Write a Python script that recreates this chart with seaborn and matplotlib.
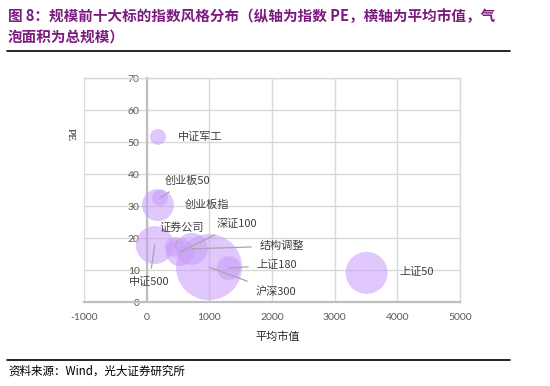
import matplotlib
matplotlib.use("Agg")
import matplotlib.pyplot as plt
import seaborn as sns
import pandas as pd
from matplotlib.lines import Line2D

# ---- data ----
names = ['中证军工', '创业板50', '创业板指', '中证500', '证券公司',
         '深证100', '结构调整', '沪深300', '上证180', '上证50']
avg_cap = [180, 210, 180, 130, 450, 530, 720, 995, 1310, 3510]
pe = [51.6, 32.5, 30.3, 17.8, 17.2, 15.6, 16.6, 10.9, 10.6, 9.1]
total_scale = [64, 64, 256, 361, 100, 196, 256, 1089, 144, 441]

x_ticks = [-1000, 0, 1000, 2000, 3000, 4000, 5000]
y_ticks = [0, 10, 20, 30, 40, 50, 60, 70]

title_text = "图 8：规模前十大标的指数风格分布（纵轴为指数 PE，横轴为平均市值，气\n泡面积为总规模）"
source_text = "资料来源：Wind，光大证券研究所"

# label layout: (text x, text y, ha, va, draw leader)
label_pos = {
    '中证军工': (500, 51.6, 'left', 'center', False),
    '创业板50': (290, 38.0, 'left', 'center', True),
    '创业板指': (610, 30.3, 'left', 'center', False),
    '中证500': (40, 6.2, 'center', 'center', True),
    '证券公司': (560, 23.4, 'center', 'center', True),
    '深证100': (1120, 24.4, 'left', 'center', True),
    '结构调整': (1810, 17.5, 'left', 'center', True),
    '沪深300': (1740, 3.2, 'left', 'center', True),
    '上证180': (1760, 11.6, 'left', 'center', True),
    '上证50': (4040, 9.4, 'left', 'center', False),
}

df = pd.DataFrame({'name': names, 'cap': avg_cap, 'pe': pe, 'scale': total_scale})

sns.set_theme(style="white")
plt.rcParams['font.family'] = ['Noto Sans CJK SC', 'DejaVu Sans']
plt.rcParams['axes.unicode_minus'] = False

fig = plt.figure(figsize=(5.5, 3.86), dpi=100)
ax = fig.add_axes([84/550, 1-302/386, (460-84)/550, (302-78)/386])

# s in points^2 ; radius 33px -> diameter 66px -> 47.5pt
smax = (66 * 0.72) ** 2
sns.scatterplot(data=df, x='cap', y='pe', size='scale', sizes=(0, smax),
                size_norm=(0, max(total_scale)), color='#C79BFA', alpha=0.55,
                edgecolor='none', legend=False, ax=ax, zorder=3)

ax.set_xlim(-1000, 5000)
ax.set_ylim(0, 70)
ax.set_xticks(x_ticks)
ax.set_yticks(y_ticks)
ax.grid(True, color='#D9D9D9', linewidth=1.0, zorder=0)
ax.set_axisbelow(True)

ax.spines['left'].set_position(('data', 0))
for sp in ['left', 'bottom']:
    ax.spines[sp].set_color('#BFBFBF')
    ax.spines[sp].set_linewidth(1.6)
for sp in ['top', 'right']:
    ax.spines[sp].set_color('#D9D9D9')
    ax.spines[sp].set_linewidth(1.0)

ax.tick_params(axis='x', length=0, labelsize=7.5, labelcolor='#595959', pad=8)
ax.tick_params(axis='y', length=4, width=1, color='#BFBFBF', direction='out',
               labelsize=7.5, labelcolor='#595959', pad=1)
for lab in ax.get_xticklabels() + ax.get_yticklabels():
    lab.set_family(['Lato', 'DejaVu Sans'])
ax.set_xlabel('')
ax.set_ylabel('')

for n, x, y in zip(names, avg_cap, pe):
    tx, ty, ha, va, leader = label_pos[n]
    if leader:
        ax.annotate(n, xy=(x, y), xytext=(tx, ty), ha=ha, va=va,
                    fontsize=8, color='#404040', zorder=5,
                    arrowprops=dict(arrowstyle='-', color='#A6A6A6', lw=0.9,
                                    shrinkA=4, shrinkB=0))
    else:
        ax.text(tx, ty, n, ha=ha, va=va, fontsize=8, color='#404040', zorder=5)

# axis titles
fig.text(278/550, 1-337/386, '平均市值', ha='center', va='center',
         fontsize=8, color='#262626')
fig.text(70/550, 1-134/386, 'PE', ha='center', va='center', rotation=270,
         fontsize=8, color='#262626', family=['Liberation Serif', 'DejaVu Serif'])

# title, rules, source
fig.text(8/550, 1-8/386, title_text, ha='left', va='top', fontsize=10.5,
         color='#7B1B7E', fontweight='bold', linespacing=1.45)
fig.add_artist(Line2D([7/550, 510/550], [1-51/386, 1-51/386], color='black', lw=1.2))
fig.add_artist(Line2D([7/550, 510/550], [1-360/386, 1-360/386], color='black', lw=1.2))
fig.text(8/550, 1-371/386, source_text, ha='left', va='center', fontsize=8.3,
         color='black')

fig.savefig('out.png', dpi=100)
